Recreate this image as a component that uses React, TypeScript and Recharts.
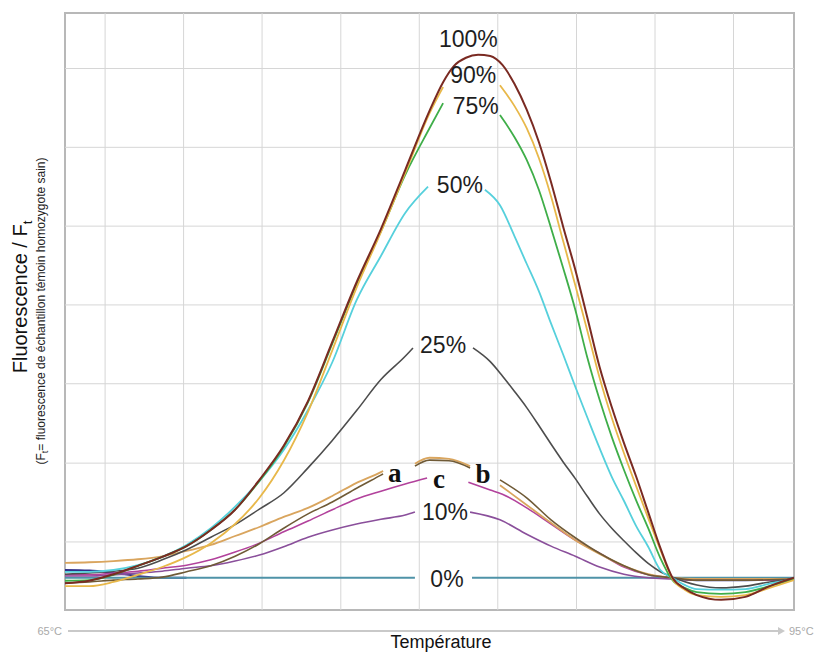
import React from 'react';
import { LineChart, Line, XAxis, YAxis, ReferenceLine, ReferenceArea, ReferenceDot } from 'recharts';

// Courbes de fusion (HRM) : temperature (°C) -> fluorescence relative (unites arbitraires)
// null = interruption de la courbe sous une etiquette
type Pt = [number, number | null];

const s100: Pt[] = [
  [65, 4.5], [66, 4.9], [67, 6.0], [68, 7.4], [69, 8.9], [70, 10.7], [71, 13.4], [72, 16.8],
  [73, 21.8], [74, 27.5], [75, 35.0], [76, 44.9], [77, 54.9], [78, 63.8], [79, 73.7], [80, 83.6],
  [80.56, 88.4], [81, 91.1], [81.5, 92.5], [82, 93.0], [82.5, 92.8], [83, 91.3], [83.5, 88.1],
  [84, 83.8], [84.5, 78.4], [85, 71.7], [85.5, 64.2], [86, 57.0], [86.5, 48.9], [87, 40.7],
  [87.5, 34.0], [88, 28.0], [88.5, 22.4], [89, 16.4], [89.5, 10.4], [90, 5.4], [90.5, 3.6],
  [91, 2.5], [92, 1.7], [93, 2.2], [94, 4.0], [95, 5.4],
];

const s90: Pt[] = [
  [65, 4.0], [66, 4.0], [67, 4.7], [68, 5.9], [69, 7.2], [70, 8.9], [71, 11.2], [72, 14.4],
  [73, 18.8], [74, 25.0], [75, 33.2], [76, 43.5], [77, 54.0], [78, 63.3], [79, 73.2], [80, 83.2],
  [80.56, 87.6], [81.7, null], [82.9, 87.9], [83.5, 84.4], [84, 80.7], [84.5, 75.7], [85, 69.3],
  [85.5, 61.8], [86, 54.4], [86.5, 46.7], [87, 38.9], [87.5, 32.2], [88, 26.3], [88.5, 20.8],
  [89, 15.4], [89.5, 10.1], [90, 5.2], [90.5, 3.4], [91, 2.5], [92, 2.2], [93, 2.5], [94, 3.7], [95, 5.0],
];

const s75: Pt[] = [
  [65, 4.9], [66, 5.0], [67, 5.9], [68, 7.4], [69, 8.9], [70, 10.7], [71, 13.4], [72, 16.8],
  [73, 21.6], [74, 27.3], [75, 34.8], [76, 44.6], [77, 54.6], [78, 63.4], [79, 72.9], [80, 80.7],
  [80.56, 84.9], [81.7, null], [82.9, 82.9], [83.5, 79.2], [84, 75.4], [84.5, 70.4], [85, 64.0],
  [85.5, 57.3], [86, 50.3], [86.5, 42.2], [87, 35.2], [87.5, 29.0], [88, 23.5], [88.5, 18.4],
  [89, 13.7], [89.5, 8.7], [90, 5.0], [90.5, 3.7], [91, 3.0], [92, 2.7], [93, 3.0], [94, 4.0], [95, 5.2],
];

const s50: Pt[] = [
  [65, 6.4], [66, 6.4], [67, 6.7], [68, 7.5], [69, 8.9], [70, 10.9], [71, 13.7], [72, 17.3],
  [73, 21.6], [74, 26.8], [75, 33.5], [76, 41.5], [77, 51.9], [78, 59.3], [79, 66.5], [79.94, 70.9],
  [81.1, null], [82.28, 70.4], [82.9, 67.8], [83.5, 62.6], [84, 58.0], [84.5, 53.4], [85, 48.0],
  [85.5, 42.8], [86, 37.4], [86.5, 32.2], [87, 27.1], [87.5, 22.3], [88, 18.3], [88.5, 14.1],
  [89, 10.6], [89.5, 6.7], [90, 5.4], [90.5, 4.2], [91, 3.5], [92, 3.4], [93, 3.5], [94, 4.4], [95, 5.2],
];

const s25: Pt[] = [
  [65, 6.0], [66, 6.2], [67, 6.5], [68, 7.0], [69, 8.4], [70, 10.1], [71, 12.2], [72, 14.3],
  [73, 16.9], [74, 19.6], [75, 23.8], [76, 28.4], [77, 33.4], [78, 38.6], [79, 42.5], [79.32, 43.9],
  [80.5, null], [81.79, 43.9], [82.5, 41.6], [83, 39.2], [83.5, 36.6], [84, 33.9], [84.5, 30.9],
  [85, 27.8], [85.5, 24.8], [86, 22.0], [86.5, 19.0], [87, 16.1], [87.5, 13.7], [88, 11.6],
  [88.5, 9.6], [89, 7.8], [89.5, 6.4], [90, 5.5], [91, 4.2], [92, 3.7], [93, 4.0], [94, 4.7], [95, 5.2],
];

const sA: Pt[] = [
  [65, 7.9], [66, 8.0], [67, 8.2], [68, 8.5], [69, 9.0], [70, 9.9], [71, 10.9], [72, 12.4],
  [73, 13.9], [74, 15.6], [75, 17.1], [76, 19.1], [77, 21.3], [78, 23.1], [78.09, 23.3], [78.7, null],
  [79.4, 24.5], [80, 25.5], [80.8, 25.3], [81.67, 24.1], [82.3, null], [82.9, 20.9], [84, 17.6],
  [85, 14.6], [86, 11.7], [87, 9.4], [88, 7.4], [89, 6.0], [90, 5.4], [91, 5.2], [93, 5.2], [95, 5.2],
];

const sB: Pt[] = [
  [65, 4.5], [66, 4.7], [67, 5.0], [68, 5.2], [69, 5.5], [70, 6.4], [71, 7.4], [72, 9.0],
  [73, 11.1], [74, 13.7], [75, 16.1], [76, 18.1], [77, 20.4], [78, 22.6], [78.09, 22.8], [78.7, null],
  [79.4, 24.1], [80, 25.1], [80.8, 25.0], [81.67, 23.8], [82.3, null], [82.9, 21.8], [84, 18.8],
  [85, 15.1], [86, 12.1], [87, 9.5], [88, 7.4], [89, 5.9], [90, 5.4], [91, 5.0], [93, 5.0], [95, 5.2],
];

const sC: Pt[] = [
  [65, 5.9], [66, 5.9], [67, 6.2], [68, 6.5], [69, 7.0], [70, 7.5], [71, 8.4], [72, 9.7],
  [73, 11.2], [74, 13.1], [75, 14.9], [76, 16.8], [77, 18.6], [78, 19.9], [79, 21.1], [79.9, 22.1],
  [80.7, null], [81.6, 21.4], [82.5, 20.1], [83, 19.4], [84, 17.1], [85, 14.4], [86, 11.7],
  [87, 9.5], [88, 7.2], [89, 5.9], [90, 5.4], [91, 5.0], [93, 5.0], [95, 5.0],
];

const s10: Pt[] = [
  [65, 5.7], [66, 5.7], [67, 5.9], [68, 6.2], [69, 6.5], [70, 7.0], [71, 7.4], [72, 8.2],
  [73, 9.2], [74, 10.6], [75, 12.2], [76, 13.4], [77, 14.4], [78, 15.2], [79, 15.9], [79.4, 16.4],
  [80.6, null], [81.67, 16.4], [82.9, 15.1], [84, 12.7], [85, 10.7], [86, 9.0], [87, 7.2],
  [88, 6.0], [89, 5.4], [90, 5.2], [91, 5.0], [93, 5.0], [95, 5.0],
];

const s0: Pt[] = [[65, 5.4], [79.4, 5.4], [80.6, null], [81.75, 5.4], [95, 5.4]];

const sNavy: Pt[] = [
  [65, 6.7], [66, 6.6], [67, 6.2], [68, 5.7], [69, 5.4], [70, 5.4], [70.5, null],
  [89.8, null], [90, 5.3], [91, 5.0], [92, 5.0], [93, 5.0], [94, 5.1], [94.5, null],
];

const gridT = [66.65, 69.88, 73.11, 76.35, 79.58, 82.81, 86.05, 89.28, 92.51];
const gridV = [11.4, 24.6, 37.9, 51.1, 64.3, 77.5, 90.7];
const endTicks = [65, 95];

// etiquettes posees sur les courbes
const labelText = ['100%', '90%', '75%', '50%', '25%', '10%', '0%'];
const labelT = [81.6, 81.8, 81.9, 81.25, 80.56, 80.64, 80.72];
const labelV = [95.6, 89.6, 84.5, 71.2, 44.4, 16.4, 5.2];
const letterText = ['a', 'c', 'b'];
const letterT = [78.57, 80.39, 82.2];
const letterV = [23.0, 22.0, 22.9];

const series = [
  { key: 'navy', pts: sNavy, color: '#30308a', w: 2 },
  { key: '0', pts: s0, color: '#4f93a8', w: 2 },
  { key: '10', pts: s10, color: '#8a4f9b', w: 1.6 },
  { key: 'c', pts: sC, color: '#b2429c', w: 1.6 },
  { key: 'a', pts: sA, color: '#d9a55e', w: 1.8 },
  { key: 'b', pts: sB, color: '#6f5a36', w: 1.6 },
  { key: '25', pts: s25, color: '#4d4d4d', w: 1.6 },
  { key: '50', pts: s50, color: '#56d0dc', w: 1.8 },
  { key: '75', pts: s75, color: '#3fae49', w: 1.8 },
  { key: '90', pts: s90, color: '#e8b84a', w: 1.8 },
  { key: '100', pts: s100, color: '#7a2a22', w: 2 },
];

const SANS = '"Liberation Sans", Arial, sans-serif';

const EndTick = (props: any) => {
  const { x, payload } = props;
  const first = payload.value === 65;
  return (
    <text x={first ? x - 3 : x - 5} y={631} dy="0.35em" textAnchor={first ? 'end' : 'start'}
      fontSize={11} fill="#a9a9a9" fontFamily={SANS}>
      {payload.value}°C
    </text>
  );
};

export default function App() {
  return (
    <div style={{ position: 'absolute', left: 0, top: 0, width: 818, height: 654, background: '#fff' }}>
      <LineChart width={818} height={654} margin={{ top: 13, right: 24, bottom: 0, left: 65 }}>
        <XAxis dataKey="t" type="number" domain={[65, 95]} ticks={gridT} tick={false}
          axisLine={false} tickLine={false} height={0} allowDataOverflow />
        <XAxis xAxisId="lab" dataKey="t" type="number" domain={[65, 95]} ticks={endTicks}
          tick={<EndTick />} axisLine={false} tickLine={false} height={44} allowDataOverflow />
        <YAxis type="number" domain={[0, 100]} ticks={gridV} tick={false} axisLine={false}
          tickLine={false} width={0} allowDataOverflow />
        {gridT.map((t) => (
          <ReferenceLine key={'gx' + t} x={t} stroke="#d6d6d6" strokeWidth={1} />
        ))}
        {gridV.map((v) => (
          <ReferenceLine key={'gy' + v} y={v} stroke="#d6d6d6" strokeWidth={1} />
        ))}
        <ReferenceArea x1={65} x2={95} y1={0} y2={100} fill="none" stroke="#b8b8b8" strokeWidth={2} />
        {series.map((s) => (
          <Line key={s.key} data={s.pts.map(([t, v]) => ({ t, v }))} dataKey="v" type="monotone"
            stroke={s.color} strokeWidth={s.w} dot={false} isAnimationActive={false} />
        ))}
        {labelText.map((txt, i) => (
          <ReferenceDot key={txt} x={labelT[i]} y={labelV[i]} r={0} stroke="none" fill="none"
            label={{ value: txt, position: 'center', fontSize: 23, fill: '#1e1e1e', fontFamily: SANS }} />
        ))}
        {letterText.map((txt, i) => (
          <ReferenceDot key={txt} x={letterT[i]} y={letterV[i]} r={0} stroke="none" fill="none"
            label={{ value: txt, position: 'center', fontSize: 27, fontWeight: 'bold', fill: '#111',
              fontFamily: '"Liberation Serif", "Times New Roman", serif' }} />
        ))}
      </LineChart>
      <svg width={818} height={654} style={{ position: 'absolute', left: 0, top: 0, pointerEvents: 'none' }}>
        <line x1={68} y1={631} x2={779} y2={631} stroke="#c9c9c9" strokeWidth={2} />
        <polygon points="778,627 785,631 778,635" fill="#c9c9c9" />
        <text x={441} y={642} dy="0.35em" textAnchor="middle" fontSize={18} fill="#111" fontFamily={SANS}>
          Température
        </text>
        <text transform="translate(20,297) rotate(-90)" textAnchor="middle" dy="0.35em"
          fontSize={20} fill="#111" fontFamily={SANS}>
          Fluorescence / F<tspan fontSize={13} dy="5">t</tspan>
        </text>
        <text transform="translate(41,311) rotate(-90)" textAnchor="middle" dy="0.35em"
          fontSize={12} fill="#222" fontFamily={SANS}>
          (F<tspan fontSize={9} dy="3">t</tspan><tspan dy="-3">= fluorescence de échantillon témoin homozygote sain)</tspan>
        </text>
      </svg>
    </div>
  );
}
